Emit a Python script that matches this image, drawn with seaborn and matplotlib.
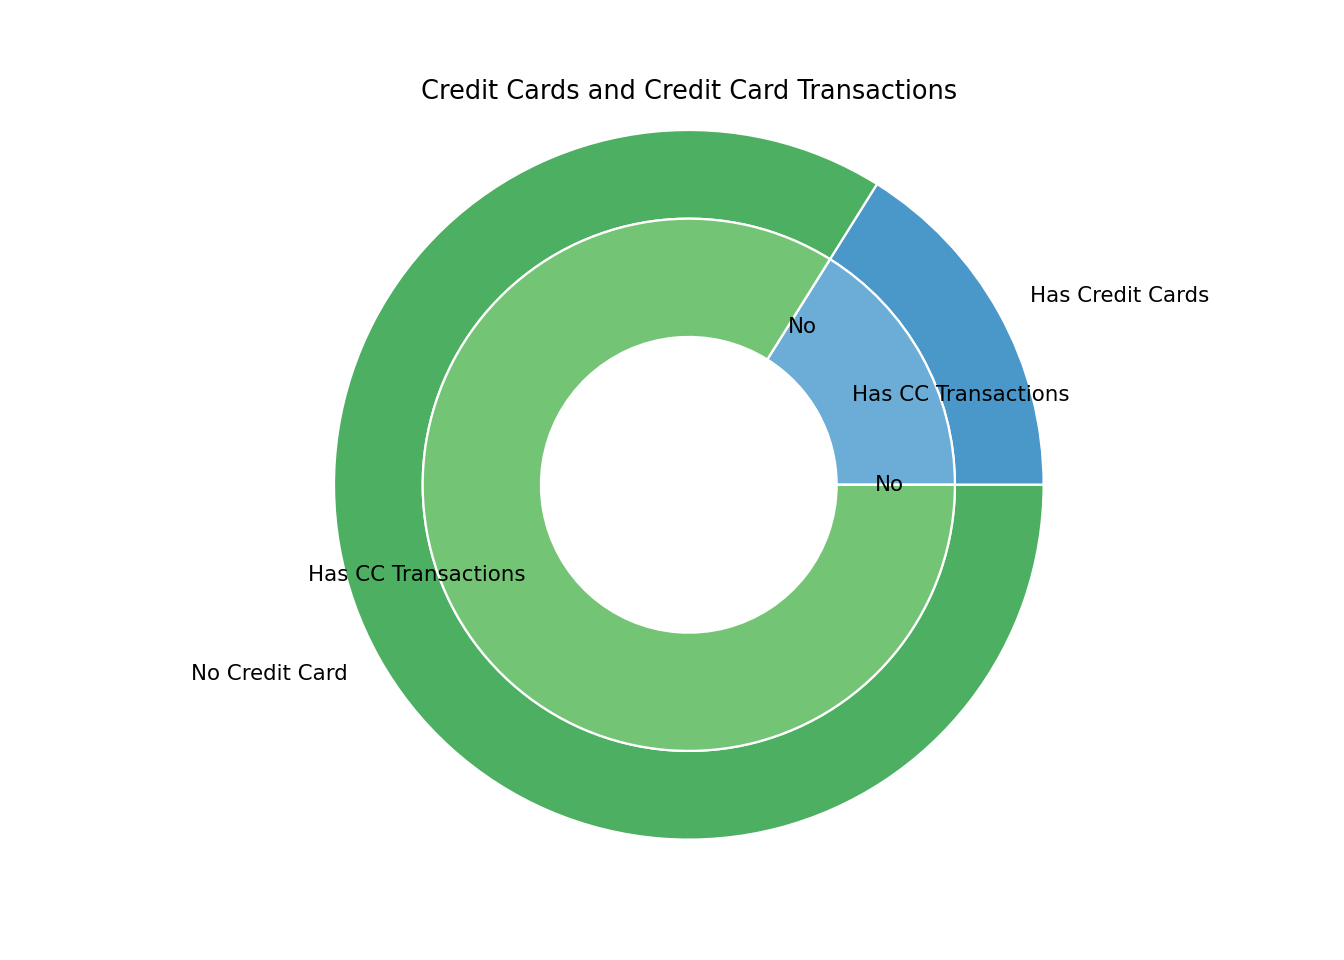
import matplotlib
matplotlib.use('Agg')
import matplotlib.pyplot as plt
import seaborn as sns

## Data
outer_labels = ['Has Credit Cards', 'No Credit Card']
outer_values = [161, 839]
inner_labels = ['Has CC Transactions', 'No', 'Has CC Transactions', 'No']
inner_values = [161, 0, 839, 0]

outer_colors = ['#4a97c9', '#4caf62']
inner_colors = ['#6badd6', '#6badd6', '#74c476', '#74c476']

plt.rcParams['font.family'] = ['DejaVu Sans']
plt.rcParams['font.size'] = 16

fig, ax = plt.subplots(figsize=(14, 10), dpi=96)

# outer ring: credit cards
ax.pie(outer_values, labels=outer_labels, colors=outer_colors, radius=1.2,
       wedgeprops=dict(width=0.3, edgecolor='white', linewidth=1.7))

# inner ring: transactions
ax.pie(inner_values, labels=inner_labels, colors=inner_colors, radius=0.9,
       labeldistance=0.7,
       wedgeprops=dict(width=0.4, edgecolor='white', linewidth=1.7))

ax.set(aspect='equal')
ax.set_title('Credit Cards and Credit Card Transactions', pad=12)

plt.savefig('out.png', dpi=96)
